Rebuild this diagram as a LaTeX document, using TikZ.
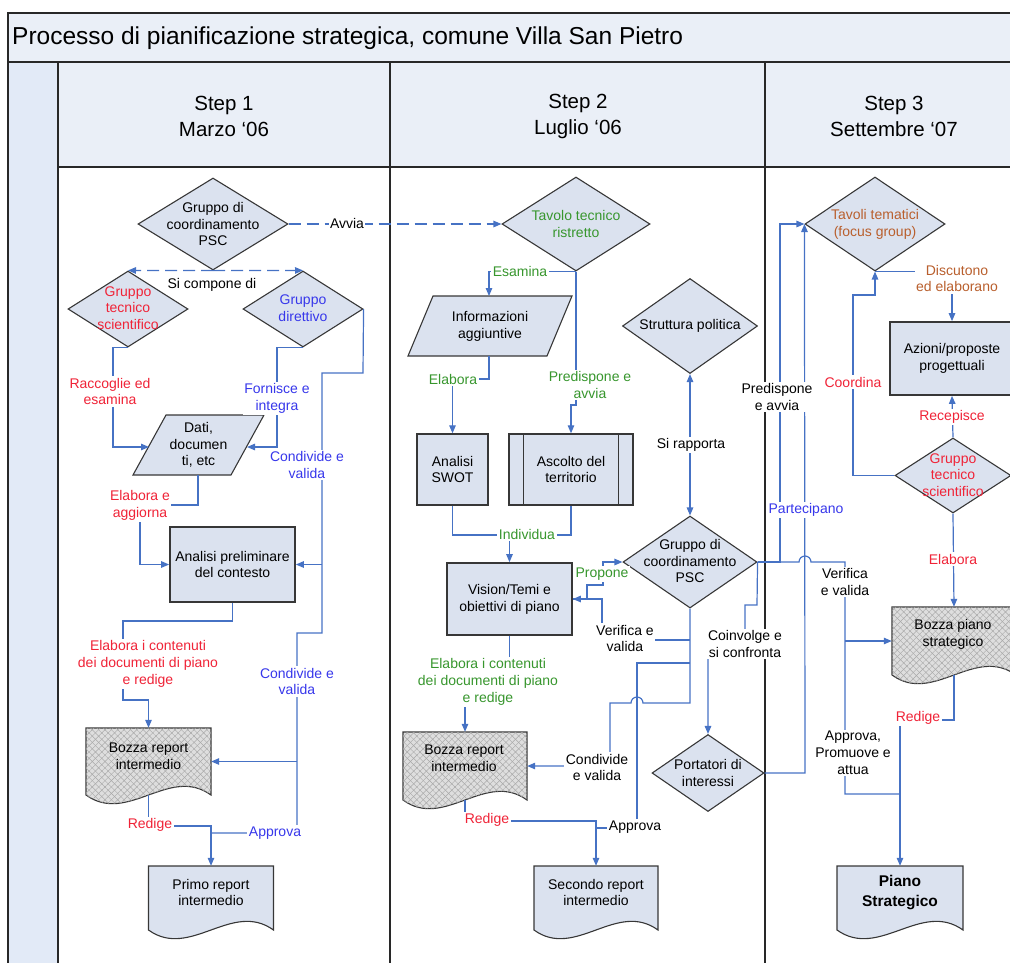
\documentclass[tikz,border=0pt]{standalone}
\usepackage{fontspec}
\setmainfont{Liberation Sans}
\usetikzlibrary{shapes.geometric,arrows.meta,patterns.meta}
\definecolor{cblue}{RGB}{70,114,196}
\definecolor{nfill}{RGB}{219,226,239}
\definecolor{hfill}{RGB}{234,239,247}
\definecolor{sfill}{RGB}{226,234,247}
\definecolor{nborder}{RGB}{55,55,55}
\definecolor{framec}{RGB}{40,40,40}
\definecolor{lred}{RGB}{240,35,55}
\definecolor{lblue}{RGB}{55,55,235}
\definecolor{lgreen}{RGB}{55,150,45}
\definecolor{lbrown}{RGB}{185,95,45}
\definecolor{hatchbg}{RGB}{222,222,222}
\definecolor{hatchln}{RGB}{168,168,168}
\newcommand{\mkdoc}[6]{%
 \path[#5] ({#1-#3/2},{#2-#4/2}) -- ({#1+#3/2},{#2-#4/2}) -- ({#1+#3/2},{#2+#4/2})
 .. controls ({#1+#3/6},{#2+#4/2-#6}) and ({#1-#3/6},{#2+#4/2+#6}) .. ({#1-#3/2},{#2+#4/2}) -- cycle;}
\begin{document}
\begin{tikzpicture}[x=1pt,y=-1pt,
 conn/.style={draw=cblue,line width=1.2pt},
 arr/.style={-{Triangle[length=8pt,width=6.5pt]}},
 dconn/.style={conn,dash pattern=on 12pt off 6pt},
 txt/.style={font=\fontsize{14}{16.8}\selectfont,align=center,inner sep=0pt},
 lab/.style={txt,fill=white,inner sep=1.5pt},
 dia/.style={shape=diamond,draw=nborder,fill=nfill,line width=1.1pt,inner sep=0pt},
 boxn/.style={rectangle,draw=nborder,fill=nfill,line width=1.7pt,txt},
 docplain/.style={draw=nborder,fill=nfill,line width=1.1pt},
 dochatch/.style={draw=nborder,fill=hatchbg,line width=1.1pt,
   postaction={pattern={Lines[angle=45,distance=4.5pt,line width=0.45pt]},pattern color=hatchln},
   postaction={pattern={Lines[angle=-45,distance=4.5pt,line width=0.45pt]},pattern color=hatchln}},
 hole/.style={rectangle,draw=none,inner sep=0pt},
 hdr/.style={font=\fontsize{20.5}{26}\selectfont,align=center},
 frm/.style={draw=framec,line width=1.8pt}]
\useasboundingbox (0,0) rectangle (1010,962);
% ---------- frame ----------
\fill[hfill] (8,13) rectangle (1014,62);
\fill[hfill] (58,62) rectangle (1014,167);
\fill[sfill] (8,62) rectangle (58,966);
\draw[frm] (8,966) -- (8,13) -- (1014,13);
\draw[frm] (8,62) -- (1014,62);
\draw[frm] (58,167) -- (1014,167);
\draw[frm] (58,62) -- (58,966);
\draw[frm] (390,62) -- (390,966);
\draw[frm] (765,62) -- (765,966);
\node[anchor=west,font=\fontsize{24.5}{29}\selectfont,inner sep=0pt] (title) at (12,38) {Processo di pianificazione strategica, comune Villa San Pietro};
\node[hdr] (h1) at (224,116) {Step 1\\Marzo ‘06};
\node[hdr] (h2) at (578,116) {Step 2\\Luglio ‘06};
\node[hdr] (h3) at (894,116) {Step 3\\Settembre ‘07};
% ---------- diamonds ----------
\node[dia,minimum width=150pt,minimum height=92pt] (d1) at (213,224) {};
\node[txt] (d1t) at (d1) {Gruppo di\\coordinamento\\PSC};
\node[dia,minimum width=120pt,minimum height=76pt] (d2) at (128,309) {};
\node[txt,text=lred] (d2t) at (128,308) {Gruppo\\tecnico\\scientifico};
\node[dia,minimum width=120pt,minimum height=76pt] (d3) at (303,309) {};
\node[txt,text=lblue] (d3t) at (303,308) {Gruppo\\direttivo};
\node[dia,minimum width=148pt,minimum height=94pt] (d4) at (576,224) {};
\node[txt,text=lgreen] (d4t) at (d4) {Tavolo tecnico\\ristretto};
\node[dia,minimum width=134pt,minimum height=92pt] (d5) at (690,562) {};
\node[txt] (d5t) at (690,561) {Gruppo di\\coordinamento\\PSC};
\node[dia,minimum width=135pt,minimum height=95pt] (d6) at (690,326) {};
\node[txt] (d6t) at (d6) {Struttura politica};
\node[dia,minimum width=112pt,minimum height=77pt] (d7) at (708,773) {};
\node[txt] (d7t) at (d7) {Portatori di\\interessi};
\node[dia,minimum width=140pt,minimum height=94pt] (d8) at (875,224) {};
\node[txt,text=lbrown] (d8t) at (d8) {Tavoli tematici\\(focus group)};
\node[dia,minimum width=116pt,minimum height=75pt] (d9) at (953,475.5) {};
\node[txt,text=lred] (d9t) at (953,475) {Gruppo\\tecnico\\scientifico};
% ---------- parallelograms ----------
\path[docplain] (166,415) -- (264,415) -- (231,475) -- (133,475) -- cycle;
\node[txt] (p1) at (198.5,445) {Dati,\\documen\\ti, etc};
\coordinate (p1w) at (149,447);
\coordinate (p1e) at (247,447);
\coordinate (p1s) at (198,475);
\path[docplain] (433,296) -- (572,296) -- (547,356) -- (408,356) -- cycle;
\node[txt] (p2) at (490,326) {Informazioni\\aggiuntive};
\coordinate (p2n) at (489,296);
\coordinate (p2s) at (489,356);
% ---------- rectangles ----------
\node[boxn,minimum width=125pt,minimum height=75pt] (r1) at (232.5,564.5) {Analisi preliminare\\del contesto};
\node[boxn,line width=1.4pt,minimum width=71pt,minimum height=71pt] (r2) at (452.5,469.5) {Analisi\\SWOT};
\node[boxn,line width=1.4pt,minimum width=124pt,minimum height=71pt] (r3) at (571,469.5) {Ascolto del\\territorio};
\draw[draw=nborder,line width=1.4pt] ([xshift=15pt]r3.north west) -- ([xshift=15pt]r3.south west);
\draw[draw=nborder,line width=1.4pt] ([xshift=-15pt]r3.north east) -- ([xshift=-15pt]r3.south east);
\node[boxn,minimum width=125pt,minimum height=72pt] (r4) at (509.5,599) {Vision/Temi e\\obiettivi di piano};
\node[boxn,minimum width=124pt,minimum height=73pt] (r5) at (952,358.5) {Azioni/proposte\\progettuali};
% ---------- documents ----------
\mkdoc{148.5}{761.5}{125}{67}{dochatch}{30}
\node[hole,minimum width=125pt,minimum height=67pt] (doc1) at (148.5,761.5) {};
\node[txt] (doc1t) at (148.5,756) {Bozza report\\intermedio};
\mkdoc{211}{898}{125}{64}{docplain}{30}
\node[hole,minimum width=125pt,minimum height=64pt] (doc2) at (211,898) {};
\node[txt] (doc2t) at (211,892.5) {Primo report\\intermedio};
\mkdoc{465}{766}{124}{68}{dochatch}{30}
\node[hole,minimum width=124pt,minimum height=68pt] (bz2) at (465,766) {};
\node[txt] (bz2t) at (464,758.5) {Bozza report\\intermedio};
\mkdoc{596}{898}{124}{64}{docplain}{30}
\node[hole,minimum width=124pt,minimum height=64pt] (sec) at (596,898) {};
\node[txt] (sect) at (596,892.5) {Secondo report\\intermedio};
\mkdoc{954}{641}{124}{68}{dochatch}{30}
\node[hole,minimum width=124pt,minimum height=68pt] (bzp) at (954,641) {};
\node[txt] (bzpt) at (953,634.5) {Bozza piano\\strategico};
\mkdoc{900}{898}{126}{64}{docplain}{30}
\node[hole,minimum width=126pt,minimum height=64pt] (piano) at (900,898) {};
\node[txt,font=\bfseries\fontsize{15.5}{20}\selectfont] (pianot) at (900,893) {Piano\\Strategico};
% ---------- connectors step 1 ----------
\draw[dconn,arr] (d1.east) -- (d4.west);
\draw[dconn,arr] (d1.south) -- (d2.north);
\draw[dconn,arr] (d1.south) -- (d3.north);
\draw[conn,arr] (d2.south) -- ++(-15,0) |- (p1w);
\draw[conn,arr] (d3.south) -- ++(-26,0) |- (p1e);
\draw[conn] (d3.east) -- (363,373) -- (322,373) -- (322,633) -- (297,633) -- (297,833) -- (211,833);
\coordinate (j1) at (322,564.5);
\coordinate (j2) at (297,761.5);
\draw[conn,arr] (j1) -- (r1.east);
\draw[conn,arr] (j2) -- (doc1.east);
\draw[conn,arr] (p1s) |- (140,505) |- (r1.west);
\draw[conn,arr] (r1.south) |- (123,621) |- (148.5,700) -- (doc1.north);
\draw[conn,arr] (doc1.south) |- (211,826) -- (doc2.north);
% ---------- connectors step 2 ----------
\draw[conn,arr] (d4.south) -| (p2n);
\draw[conn,arr] (d4.south) -- (576,405) -- (571,405) -- (r3.north);
\draw[conn,arr] (p2s) |- (452.5,379) -- (r2.north);
\draw[conn] (r2.south) -- (452.5,535) -- (571,535) -- (r3.south);
\coordinate (j3) at (509.5,535);
\draw[conn,arr] (j3) -- (r4.north);
\draw[conn,{Triangle[length=8pt,width=6.5pt]}-{Triangle[length=8pt,width=6.5pt]}] (d6.south) -- (d5.north);
\draw[conn,arr] (r4.east) -- (587,599) -- (587,585) -- (603,585) |- (d5.west);
\coordinate (j4) at (690,640);
\coordinate (j5) at (690,663);
\draw[conn,arr] (j4) -- (602,640) |- (r4.east);
\draw[conn,arr] (d5.south) -- (690,703) -- (643,703) arc[start angle=0,end angle=180,radius=6pt] -- (610,703) |- (bz2.east);
\draw[conn] (j5) -- (637,663) -- (637,828) -- (596,828);
\draw[conn,arr] (r4.south) |- (465,690) -- (bz2.north);
\draw[conn,arr] (bz2.south) |- (596,821) -- (sec.north);
\draw[conn,arr] (d5.east) -- (757,605) -- (745,605) -- (745,650) -- (708,650) -- (d7.north);
\draw[conn,arr] (d5.east) -- (780,562) -- (780,224) -- (d8.west);
\draw[conn,arr] (d7.east) -- (805,773) -- (d8.west);
% ---------- connectors step 3 ----------
\draw[conn] (d5.east) -- (799,562) arc[start angle=180,end angle=0,radius=6pt] -- (845,562) -- (845,794) -- (900,794);
\coordinate (j6) at (845,641);
\draw[conn,arr] (j6) -- (bzp.west);
\draw[conn,arr] (bzp.south) |- (900,720) -- (piano.north);
\draw[conn,arr] (d8.south) -| (r5.north);
\draw[conn,arr] (d9.west) -- (853,475.5) -- (853,295) -- (875,295) -- (d8.south);
\draw[conn,arr] (d9.north) -- (r5.south);
\draw[conn,arr] (d9.south) -- (bzp.north);
% ---------- labels ----------
\node[lab] (lavvia) at (347,223) {Avvia};
\node[txt] (lsicomp) at (212,285) {Si compone di};
\node[lab,text=lred] (l1) at (110,391.5) {Raccoglie ed\\esamina};
\node[lab,text=lblue] (l2) at (277,398.5) {Fornisce e\\integra};
\node[lab,text=lblue] (l3) at (307,465) {Condivide e\\valida};
\node[lab,text=lred] (l4) at (140,505.5) {Elabora e\\aggiorna};
\node[lab,text=lred] (l5) at (148,664) {Elabora i contenuti\\dei documenti di piano\\e redige};
\node[lab,text=lblue] (l6) at (297,681.5) {Condivide e\\valida};
\node[lab,text=lred] (l7) at (150,825) {Redige};
\node[lab,text=lblue] (l8) at (275,833) {Approva};
\node[lab,text=lgreen] (l9) at (520,271) {Esamina};
\node[lab,text=lgreen] (l10) at (590,385) {Predispone e\\avvia};
\node[lab,text=lgreen] (l11) at (453,379) {Elabora};
\node[lab,text=lgreen] (l12) at (527,534) {Individua};
\node[lab] (l13) at (691,445) {Si rapporta};
\node[lab,text=lgreen] (l14) at (602,574) {Propone};
\node[lab] (l15) at (625,638.5) {Verifica e\\valida};
\node[lab,text=lgreen] (l16) at (488,682) {Elabora i contenuti\\dei documenti di piano\\e redige};
\node[lab] (l17) at (597,767.5) {Condivide\\e valida};
\node[lab,text=lred] (l18) at (487,820) {Redige};
\node[lab] (l19) at (635,827) {Approva};
\node[lab] (l20) at (745,644) {Coinvolge e\\si confronta};
\node[lab] (l21) at (777,397) {Predispone\\e avvia};
\node[lab,text=lblue] (l22) at (806,510) {Partecipano};
\node[lab,text=lbrown] (l23) at (957,278.5) {Discutono\\ed elaborano};
\node[lab,text=lred] (l24) at (853,382) {Coordina};
\node[lab,text=lred] (l25) at (952,417) {Recepisce};
\node[lab,text=lred] (l26) at (953,559) {Elabora};
\node[lab] (l27) at (845,582) {Verifica\\e valida};
\node[lab] (l28) at (853,753) {Approva,\\Promuove e\\attua};
\node[lab,text=lred] (l29) at (918,718) {Redige};
\end{tikzpicture}
\end{document}
